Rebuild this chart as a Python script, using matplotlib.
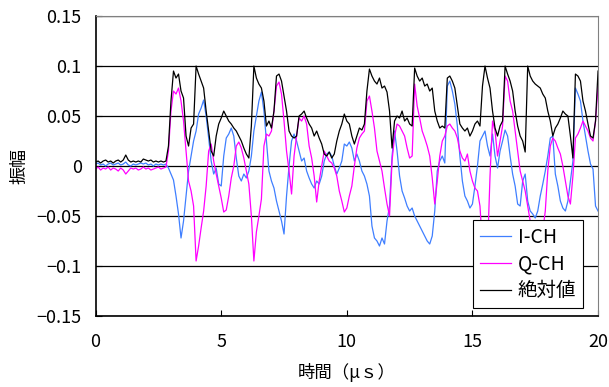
import matplotlib
matplotlib.use("Agg")
import matplotlib.pyplot as plt
import numpy as np

plt.rcParams['font.family'] = ['Noto Sans CJK JP', 'DejaVu Sans']

# time axis (microseconds), 0.1 us step
t = np.arange(201) / 10.0

# amplitudes, in thousandths
i_ch = [2, 3, 1, 2, 0, 2, 3, 1, 2, 3,
        1, 2, 4, 1, 0, 2, 1, 2, 3, 2,
        3, 1, 2, 0, 2, 1, 2, 1, 2, -2,
        -8, -14, -30, -48, -72, -55, -30, -5, 10, 25,
        35, 52, 58, 66, 50, 28, 5, -8, -2, -18,
        -20, 10, 28, 32, 38, 30, 8, -10, -15, -8,
        -12, -5, 10, 35, 50, 65, 74, 55, 25, -5,
        -15, -22, -35, -45, -55, -68, -30, 0, 25, 32,
        25, 15, 5, 8, -5, -12, -18, -22, -15, -18,
        -10, 5, 12, 14, 10, 0, -8, -2, 5, 22,
        20, 24, 18, 5, 12, 5, -5, -10, -18, -30,
        -60, -72, -75, -80, -72, -78, -55, -40, 10, 35,
        15, -10, -25, -32, -40, -45, -42, -50, -55, -60,
        -65, -70, -75, -78, -70, -45, -5, 5, 10, 3,
        80, 85, 75, 62, 40, 10, -15, -30, -35, -42,
        -38, -20, 0, 25, 30, 35, 20, 10, 32, 10,
        -2, 15, 25, 36, 30, 10, -8, -20, -38, -40,
        -15, -8, -35, -45, -48, -52, -45, -30, -18, -5,
        10, 28, 30, -8, -20, -35, -42, -45, -35, -15,
        5, 78, 72, 65, 45, 30, 15, 2, -3, -40,
        -45]

q_ch = [-3, -1, -4, -2, -3, -1, -4, -2, -3, -5,
        -2, -4, -8, -5, -2, -3, -2, -4, -3, -1,
        -3, -2, -4, -3, -2, -1, -3, -2, -1, 15,
        55, 75, 72, 78, 65, 45, 15, -15, -25, -40,
        -95, -80, -62, -45, -20, 15, 22, 5, -8, -20,
        -32, -46, -44, -30, -12, 0, 20, 24, 18, 8,
        -5, -18, -50, -95, -66, -50, -33, 20, 32, 30,
        35, 55, 80, 84, 72, 45, 15, -5, -28, 10,
        30, 48, 45, 50, 42, 20, 8, -10, -36, -15,
        0, 15, 10, 5, 3, -2, -10, -25, -35, -46,
        -42, -30, -20, 0, 18, 28, 32, 35, 65, 70,
        55, 38, 15, 5, -5, -22, -38, -50, 5, 30,
        42, 40, 35, 30, 18, 8, 10, 82, 60, 48,
        35, 28, 20, 10, -12, -38, -15, 10, 25, 30,
        40, 42, 38, 35, 28, 15, 8, 5, 12, -5,
        -15, -22, -25, -40, -80, -95, -85, -10, 45, 35,
        10, 25, 40, 90, 85, 65, 55, 35, 15, -5,
        -15, -25, -40, -55, -70, -80, -80, -75, -65, -45,
        -5, 20, 28, 25, 18, 12, 0, -15, -30, -38,
        -10, 28, 32, 38, 45, 40, 35, 28, 25, 45,
        80]

abs_val = [4, 5, 3, 5, 6, 4, 5, 3, 5, 6,
           4, 6, 11, 6, 4, 5, 4, 5, 4, 7,
           6, 5, 6, 4, 5, 4, 5, 4, 5, 20,
           65, 95, 88, 92, 75, 68, 30, 20, 38, 42,
           100, 92, 85, 78, 55, 35, 15, 10, 30, 42,
           48, 55, 50, 45, 42, 38, 35, 30, 25, 18,
           12, 8, 40, 100, 88, 82, 78, 65, 40, 45,
           38, 55, 90, 92, 85, 70, 55, 35, 30, 28,
           30, 50, 52, 55, 48, 42, 38, 30, 35, 28,
           22, 12, 10, 14, 8, 12, 25, 35, 42, 52,
           45, 42, 30, 22, 30, 38, 36, 42, 75, 97,
           90, 85, 82, 88, 78, 80, 74, 55, 18, 45,
           50, 48, 55, 45, 48, 42, 40, 98, 90, 85,
           88, 80, 82, 75, 78, 55, 45, 38, 40, 38,
           88, 90, 85, 78, 60, 42, 38, 35, 38, 30,
           35, 42, 45, 40, 80, 100, 88, 78, 55, 38,
           30, 40, 45, 100, 92, 85, 75, 55, 40, 30,
           25, 14, 100, 90, 85, 82, 80, 78, 72, 68,
           55, 45, 30, 38, 42, 48, 55, 52, 50, 30,
           8, 92, 90, 85, 65, 55, 42, 30, 28, 45,
           95]

yticks = [-0.15, -0.1, -0.05, 0, 0.05, 0.1, 0.15]
ytick_labels = ['\u22120.15', '\u22120.1', '\u22120.05', '0', '0.05', '0.1', '0.15']
xticks = [0, 5, 10, 15, 20]

fig = plt.figure(figsize=(6.09, 3.87), dpi=100)
ax = fig.add_axes([0.157, 0.1835, 0.825, 0.775])

ax.plot(t, np.array(i_ch) / 1000, color='#3f7fff', lw=0.9, label='I-CH')
ax.plot(t, np.array(q_ch) / 1000, color='#ff00ff', lw=0.9, label='Q-CH')
ax.plot(t, np.array(abs_val) / 1000, color='black', lw=0.9, label='絶対値')

ax.set_xlim(0, 20)
ax.set_ylim(-0.15, 0.15)
ax.set_xticks(xticks)
ax.set_yticks(yticks)
ax.set_yticklabels(ytick_labels)
ax.yaxis.grid(True, color='black', lw=0.9)
ax.set_axisbelow(True)
ax.tick_params(direction='in', length=4, labelsize=13)
ax.tick_params(axis='x', pad=12)
ax.tick_params(axis='y', pad=10)
for s in ['top', 'right']:
    ax.spines[s].set_color('#808080')
for s in ['left', 'bottom']:
    ax.spines[s].set_linewidth(1.2)

ax.set_xlabel('時間（μｓ）', fontsize=12.5, labelpad=9)
ax.set_ylabel('振幅', fontsize=13, labelpad=6)

leg = ax.legend(loc='upper left', bbox_to_anchor=(0.751, 0.32), borderaxespad=0,
                fontsize=14, frameon=True, fancybox=False, framealpha=1,
                edgecolor='black', handlelength=1.6, handletextpad=0.36,
                labelspacing=0.3, borderpad=0.35)
leg.get_frame().set_linewidth(0.8)

fig.savefig('out.png', dpi=100)
